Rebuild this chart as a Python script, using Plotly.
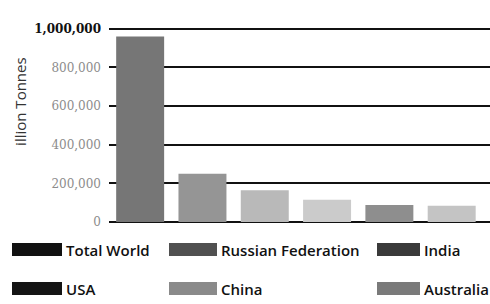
import plotly.graph_objects as go

categories = ["Total World", "USA", "Russian Federation", "China", "India", "Australia"]
reserves = [960000, 250000, 165000, 115000, 88000, 84000]
bar_colors = ["#767676", "#959595", "#b9b9b9", "#cbcbcb", "#8e8e8e", "#c4c4c4"]
swatch_colors = ["#111111", "#141414", "#505050", "#8a8a8a", "#3a3a3a", "#7a7a7a"]
tick_vals = [0, 200000, 400000, 600000, 800000, 1000000]
tick_text = ["0", "200,000", "400,000", "600,000", "800,000", "1,000,000"]
y_title = "illion Tonnes"

W, H = 490, 304
L, R, T, B = 109, 490, 29, 222
YMAX = 1025000
T_EFF = B - (B - T) * YMAX / 1000000

def px(x):
    return (x - L) / (R - L)

def py(y):
    return (B - y) / (B - T_EFF)

fig = go.Figure(go.Bar(
    x=categories, y=reserves, marker=dict(color=bar_colors, line=dict(width=0)),
    width=0.77, showlegend=False,
))

ticktext_styled = [
    f'<span style="font-size:12px;color:#111"><b>{t}</b></span>' if v == max(tick_vals)
    else f'<span style="color:#8c8c8c">{t}</span>'
    for v, t in zip(tick_vals, tick_text)
]

fig.update_layout(
    width=W, height=H,
    margin=dict(l=L, r=W - R, t=T_EFF, b=H - B),
    paper_bgcolor="white", plot_bgcolor="white",
    font=dict(family="DejaVu Serif", size=12, color="#222"),
    xaxis=dict(range=[-0.5, 5.615], showticklabels=False, showgrid=False, zeroline=False,
               showline=False, fixedrange=True),
    yaxis=dict(range=[0, YMAX], tickvals=tick_vals, ticktext=ticktext_styled,
               showgrid=True, gridcolor="#111", gridwidth=2, zeroline=True,
               zerolinecolor="#111", zerolinewidth=2, showline=False,
               ticks="", ticklabelstandoff=7, fixedrange=True,
               tickfont=dict(family="DejaVu Serif", size=12, color="#222")),
    bargap=0.23,
)

annotations = [dict(text=y_title, xref="paper", yref="paper", x=px(20), y=py(102),
                    textangle=-90, showarrow=False, xanchor="center", yanchor="middle",
                    font=dict(family="Open Sans", size=15, color="#333"))]
shapes = []
col_x = [(12, 62), (169, 217), (377, 420)]
row_y = [(243, 256), (282, 295)]
for i, name in enumerate(categories):
    c, r = i // 2, i % 2
    x0, x1 = col_x[c]
    y0, y1 = row_y[r]
    shapes.append(dict(type="rect", xref="paper", yref="paper",
                       x0=px(x0), x1=px(x1), y0=py(y1), y1=py(y0),
                       fillcolor=swatch_colors[i], line=dict(width=0)))
    annotations.append(dict(text=name, xref="paper", yref="paper", x=px(x1 + 2),
                            y=py((y0 + y1) / 2), xanchor="left", yanchor="middle",
                            showarrow=False,
                            font=dict(family="Open Sans", size=15, color="#111", weight=600)))
fig.update_layout(shapes=shapes, annotations=annotations)

fig.write_html("out.html", config={"displayModeBar": False},
               post_script="document.body.style.margin='0';")
